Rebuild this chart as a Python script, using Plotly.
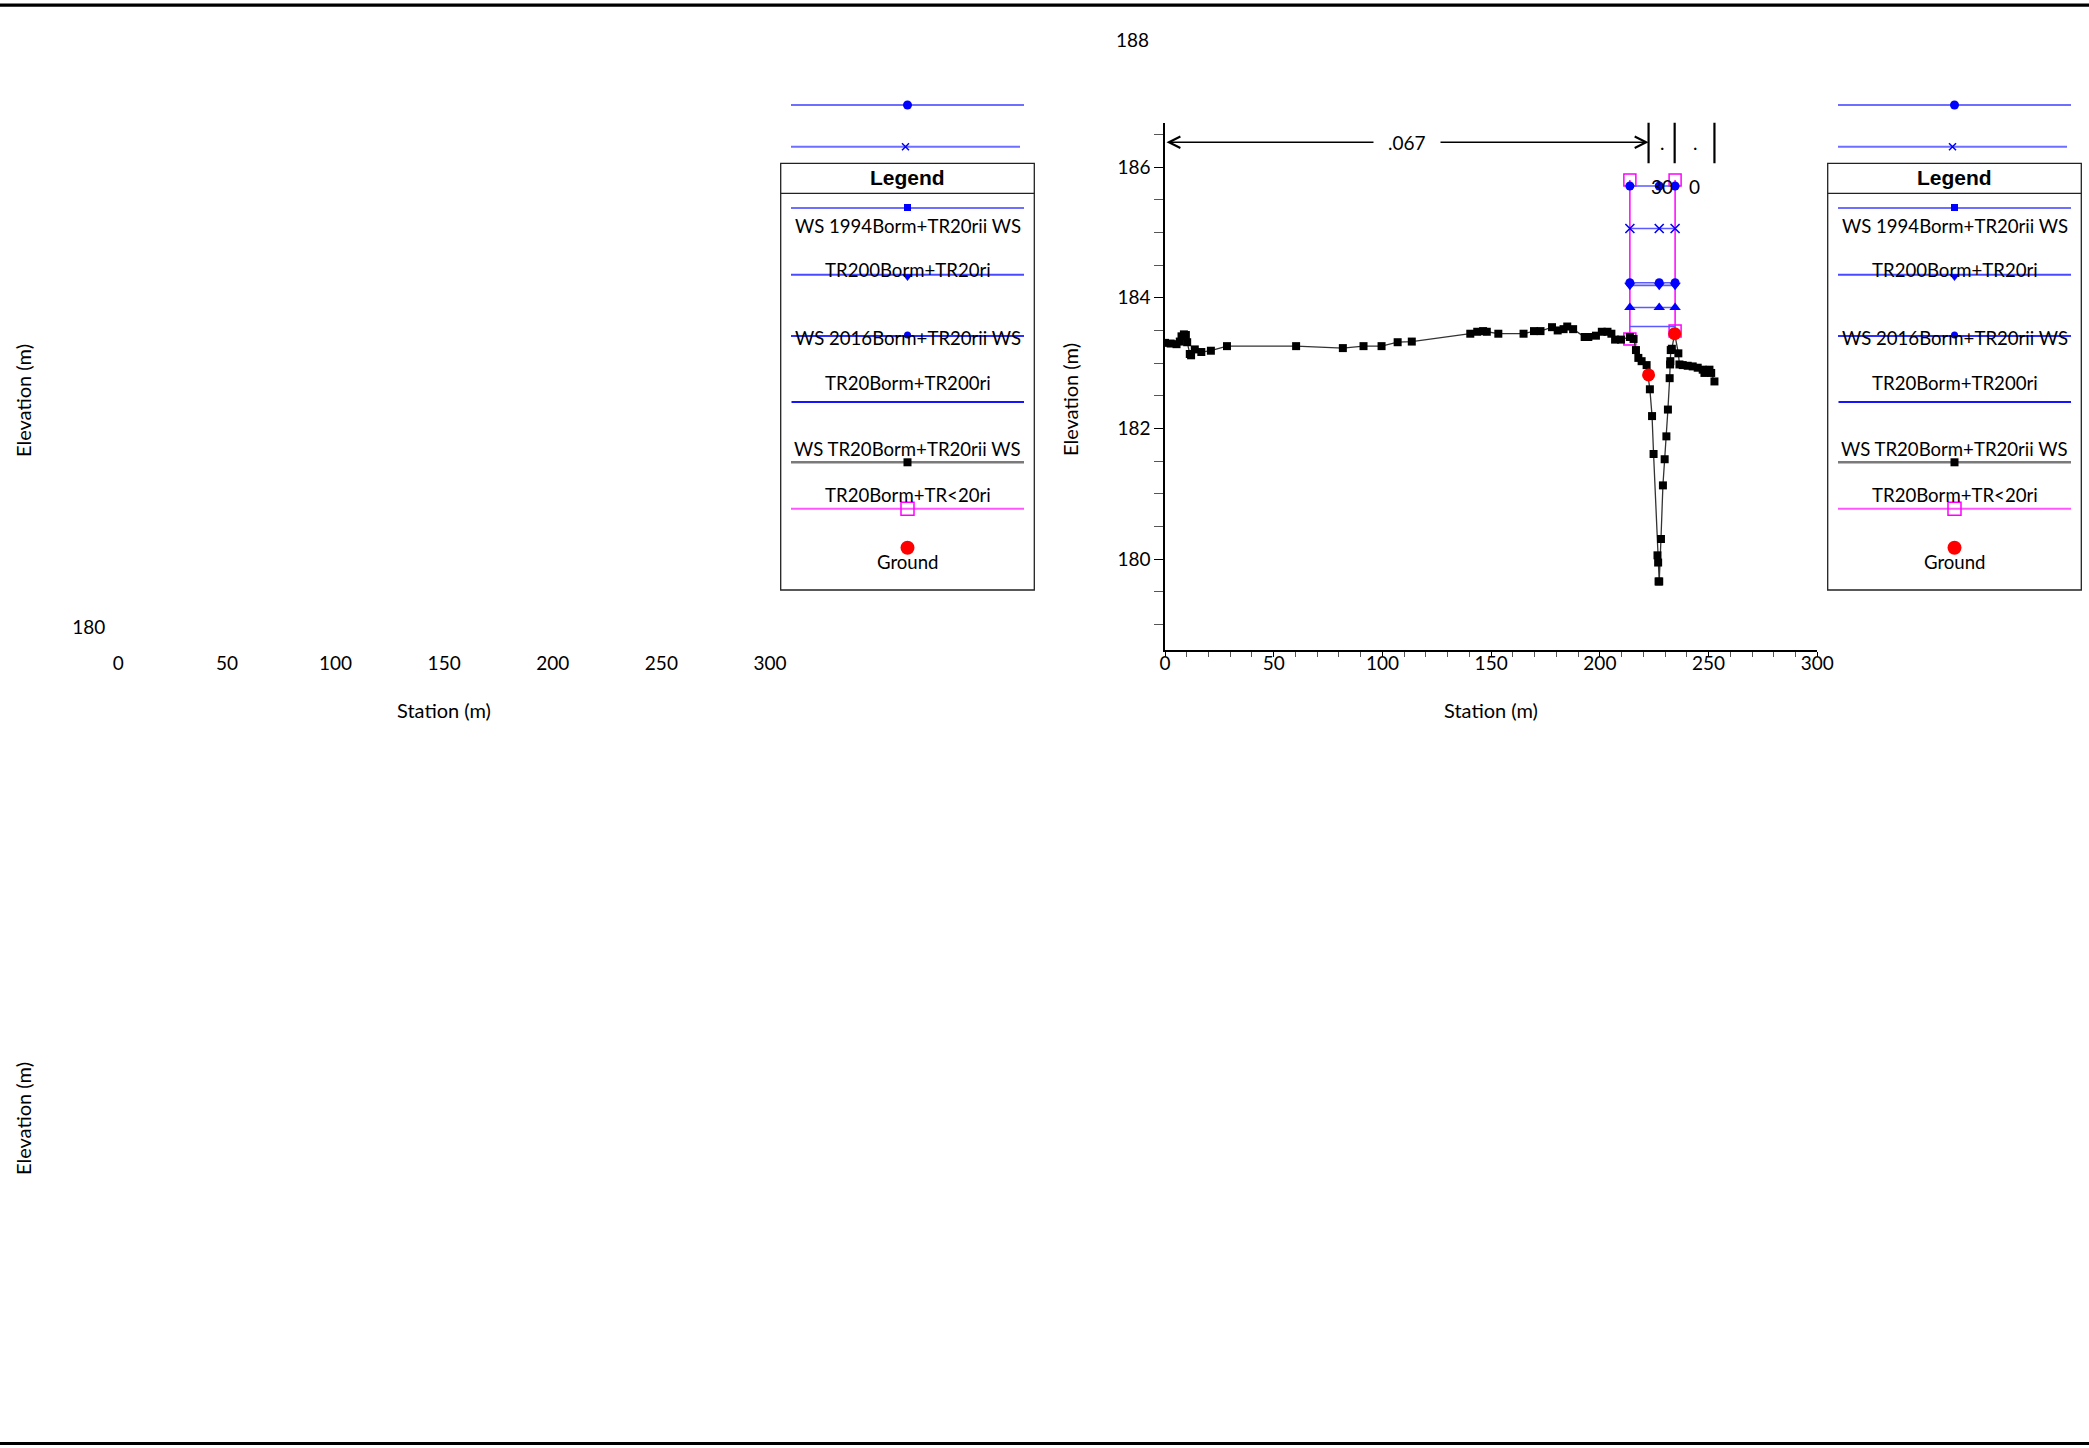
import plotly.graph_objects as go

W, H = 2089, 1448

# ------------------------------------------------------------------ data
GROUND_STATION = [0.0, 2.6, 5.3, 6.8, 7.6, 8.7, 9.6, 10.2, 11.4, 12.0, 13.7, 16.7, 21.1,
                  28.5, 60.3, 81.8, 91.3, 99.6, 107.0, 113.5, 140.4, 143.6, 146.3, 148.0,
                  153.3, 164.9, 169.7, 172.7, 178.0, 180.6, 183.3, 185.0, 187.7, 193.0,
                  194.7, 198.2, 200.9, 203.5, 205.3, 207.0, 209.7, 213.8, 215.5, 216.6,
                  217.7, 219.2, 221.5, 223.0, 224.0, 224.7, 226.5, 226.8, 227.0, 227.3,
                  228.1, 229.0, 229.8, 230.6, 231.3, 232.1, 232.3, 232.4, 232.6, 233.1,
                  234.4, 236.1, 236.6, 238.1, 240.4, 242.7, 245.0, 247.3, 248.1, 250.4,
                  251.2, 252.7]
GROUND_ELEV = [183.31, 183.30, 183.29, 183.33, 183.41, 183.44, 183.43, 183.32, 183.14, 183.12,
               183.21, 183.17, 183.19, 183.26, 183.26, 183.23, 183.26, 183.26, 183.32, 183.33,
               183.45, 183.48, 183.49, 183.48, 183.45, 183.45, 183.49, 183.49, 183.55, 183.50,
               183.52, 183.56, 183.52, 183.40, 183.40, 183.42, 183.48, 183.48, 183.45, 183.36,
               183.36, 183.40, 183.37, 183.20, 183.08, 183.03, 182.97, 182.60, 182.19, 181.61,
               180.06, 179.95, 179.66, 179.66, 180.31, 181.13, 181.53, 181.88, 182.29, 182.77,
               182.98, 183.03, 183.20, 183.22, 183.45, 183.15, 182.98, 182.97, 182.96, 182.95,
               182.93, 182.90, 182.85, 182.90, 182.85, 182.72]

BANK_STATION = [222.4, 234.4]
BANK_ELEV = [182.82, 183.45]

WS_STATION = [213.8, 227.3, 234.6]
WS_1 = [185.71, 185.71, 185.71]
WS_2 = [185.06, 185.06, 185.06]
WS_3 = [184.23, 184.23, 184.23]
WS_4 = [184.19, 184.19, 184.19]
WS_5 = [183.85, 183.85, 183.85]
WS_6 = [183.56, 183.56, 183.56]

LEVEE_STATION = [213.8, 213.8, None, 234.6, 234.6]
LEVEE_ELEV = [183.37, 185.80, None, 185.80, 183.49]

N_BREAK_STATION = [0.0, 222.4, 234.4, 252.7]
N_VALUE_LABELS = [".067", ".", "."]
N_SUB_LABELS = ["", "30", "0"]

X_TICKS = [0, 50, 100, 150, 200, 250, 300]
Y_TICKS = [178, 180, 182, 184, 186, 188]
LEFT_Y_TICKS = [180]

LEGEND_LABELS = ["WS 1994Borm+TR20rii WS", "TR200Borm+TR20ri", "WS 2016Borm+TR20rii WS",
                 "TR20Borm+TR200ri", "WS TR20Borm+TR20rii WS", "TR20Borm+TR&lt;20ri", "Ground"]

# ------------------------------------------------------------------ style / layout helpers
FONT = "Lato, 'Noto Sans', sans-serif"
FS = 19
BLUE = "#0000ff"
LBLUE = "#5a5aff"
MAGENTA = "#ff00ff"

Y_RANGE = [178.612, 186.681]      # right panel elevation axis
LEFT_Y_RANGE = [179.653, 187.72]
X_RANGE = [0, 300]
PLOT_TOP_PX, PLOT_BOTTOM_PX = 122.5, 650
RIGHT_LEFT_PX, RIGHT_RIGHT_PX = 1165, 1817.3
LEFT_LEFT_PX, LEFT_RIGHT_PX = 118.3, 770


def fx(px):
    return px / W


def fy(py):
    return 1 - py / H


def elev_to_px(v):
    return PLOT_BOTTOM_PX - (v - Y_RANGE[0]) * (PLOT_BOTTOM_PX - PLOT_TOP_PX) / (Y_RANGE[1] - Y_RANGE[0])


Y_DOMAIN = [fy(PLOT_BOTTOM_PX), fy(PLOT_TOP_PX)]

fig = go.Figure()

# --- right panel traces
fig.add_trace(go.Scatter(x=LEVEE_STATION, y=LEVEE_ELEV, mode="lines+markers",
                         line=dict(color=MAGENTA, width=1.5),
                         marker=dict(symbol="square-open", size=12, color=MAGENTA,
                                     line=dict(width=1.5, color=MAGENTA)),
                         xaxis="x", yaxis="y", hoverinfo="skip"))

ws_specs = [
    (WS_6, None, 0),
    (WS_5, "triangle-up", 10),
    (WS_4, "triangle-down", 10),
    (WS_3, "circle", 9),
    (WS_2, "x-thin", 9),
    (WS_1, "circle", 9),
]
for vals, sym, size in ws_specs:
    if sym is None:
        fig.add_trace(go.Scatter(x=WS_STATION, y=vals, mode="lines",
                                 line=dict(color=LBLUE, width=1.6),
                                 xaxis="x", yaxis="y", hoverinfo="skip"))
    else:
        fig.add_trace(go.Scatter(x=WS_STATION, y=vals, mode="lines+markers",
                                 line=dict(color=LBLUE, width=1.6),
                                 marker=dict(symbol=sym, size=size, color=BLUE,
                                             line=dict(width=1.6 if sym == "x-thin" else 0, color=BLUE)),
                                 xaxis="x", yaxis="y", hoverinfo="skip"))

fig.add_trace(go.Scatter(x=GROUND_STATION, y=GROUND_ELEV, mode="lines+markers",
                         line=dict(color="#333333", width=1.3),
                         marker=dict(symbol="square", size=8, color="black"),
                         xaxis="x", yaxis="y", hoverinfo="skip"))
fig.add_trace(go.Scatter(x=BANK_STATION, y=BANK_ELEV, mode="markers",
                         marker=dict(symbol="circle", size=13, color="#ff0000"),
                         xaxis="x", yaxis="y", hoverinfo="skip"))

shapes = []
annotations = []

# Manning's n bars / arrow / labels
ARROW_Y = 186.378
for st in N_BREAK_STATION[1:]:
    shapes.append(dict(type="line", xref="x", yref="y", x0=st, x1=st, y0=186.057, y1=Y_RANGE[1],
                       line=dict(color="black", width=2.2)))
annotations.append(dict(x=N_BREAK_STATION[1], y=ARROW_Y, ax=N_BREAK_STATION[0], ay=ARROW_Y,
                        xref="x", yref="y", axref="x", ayref="y", text="", showarrow=True,
                        arrowhead=5, startarrowhead=5, arrowside="end+start",
                        arrowsize=1.6, startarrowsize=1.6, arrowwidth=1.4, arrowcolor="black"))
for i, lab in enumerate(N_VALUE_LABELS):
    mid = (N_BREAK_STATION[i] + N_BREAK_STATION[i + 1]) / 2
    annotations.append(dict(x=mid, y=ARROW_Y, xref="x", yref="y", text=lab, showarrow=False,
                            bgcolor="white" if lab != "." else None,
                            borderpad=14 if lab != "." else 1,
                            font=dict(family=FONT, size=FS, color="black")))
    if N_SUB_LABELS[i]:
        annotations.append(dict(x=mid, y=185.70, xref="x", yref="y", text=N_SUB_LABELS[i],
                                showarrow=False, font=dict(family=FONT, size=FS, color="black")))


# --- pixel-overlay text helper
def ptext(txt, x, y, angle=0, size=FS, family=FONT, xanchor="center"):
    annotations.append(dict(x=x, y=y, xref="x3", yref="y3", text=txt, showarrow=False,
                            textangle=angle, xanchor=xanchor, yanchor="middle",
                            font=dict(family=family, size=size, color="black")))


# top tick label that sits above the end of the elevation axis
ptext(str(Y_TICKS[-1]), RIGHT_LEFT_PX - 14, elev_to_px(Y_TICKS[-1]) + 3, xanchor="right")

ptext("Station (m)", (LEFT_LEFT_PX + LEFT_RIGHT_PX) / 2, 710, size=20)
ptext("Station (m)", (RIGHT_LEFT_PX + RIGHT_RIGHT_PX) / 2, 710, size=20)
ptext("Elevation (m)", 23, 401, -90, size=20)
ptext("Elevation (m)", 1070, 400, -90, size=20)
ptext("Elevation (m)", 23, 1119, -90, size=20)

# --- outer borders
for yb in (5.2, 1443.5):
    shapes.append(dict(type="line", xref="x3", yref="y3", x0=0, x1=W, y0=yb, y1=yb,
                       line=dict(color="black", width=3.2)))

# --- legend boxes (drawn by hand, pixel overlay)
LEGEND_ROWS = [
    dict(ly=105, x0=-116.5, x1=116.5, lc="#6e6eff", lw=2, sym="circle", ms=9, my=105, mx=0),
    dict(ly=146.7, x0=-116.5, x1=112.5, lc="#6e6eff", lw=2, sym="x-thin", ms=7, my=146.7, mx=-2),
    dict(ly=208, x0=-116.5, x1=116.5, lc="#6e6eff", lw=2, sym="square", ms=7, my=207.5, mx=0,
         text=LEGEND_LABELS[0], ty=225.7),
    dict(ly=274.7, x0=-116.5, x1=116.5, lc="#4a4aff", lw=2, sym="triangle-down", ms=9, my=276.5, mx=0,
         text=LEGEND_LABELS[1], ty=270),
    dict(ly=336, x0=-116.5, x1=116.5, lc="#2e2eff", lw=2, sym="circle", ms=7, my=335, mx=0,
         text=LEGEND_LABELS[2], ty=338.3),
    dict(ly=402, x0=-116, x1=116.5, lc="#1414ff", lw=2, sym=None,
         text=LEGEND_LABELS[3], ty=382.7),
    dict(ly=462.3, x0=-116.5, x1=116.5, lc="#7a7a7a", lw=2.6, sym="square", ms=8, mc="black",
         my=462.3, mx=0, text=LEGEND_LABELS[4], ty=449.3),
    dict(ly=508.7, x0=-116.5, x1=116.5, lc="#ff55ff", lw=2, sym="square-open", ms=13, mc=MAGENTA,
         my=508.7, mx=0, text=LEGEND_LABELS[5], ty=495),
    dict(ly=None, sym="circle", ms=14, mc="#ff0000", my=547.7, mx=0,
         text=LEGEND_LABELS[6], ty=561.7),
]


def add_legend(cx):
    shapes.append(dict(type="rect", xref="x3", yref="y3", x0=cx - 126.8, x1=cx + 126.8,
                       y0=163.3, y1=590, line=dict(color="#222222", width=1.3)))
    shapes.append(dict(type="line", xref="x3", yref="y3", x0=cx - 126.8, x1=cx + 126.8,
                       y0=193.3, y1=193.3, line=dict(color="#222222", width=1.3)))
    ptext("<b>Legend</b>", cx, 177, size=21, family="'Liberation Sans', Arial, sans-serif")
    for r in LEGEND_ROWS:
        if r.get("ly") is not None:
            fig.add_trace(go.Scatter(x=[cx + r["x0"], cx + r["x1"]], y=[r["ly"], r["ly"]],
                                     mode="lines", line=dict(color=r["lc"], width=r["lw"]),
                                     xaxis="x3", yaxis="y3", hoverinfo="skip"))
        if r.get("sym"):
            mc = r.get("mc", BLUE)
            lw = 1.5 if r["sym"] in ("x-thin", "square-open") else 0
            fig.add_trace(go.Scatter(x=[cx + r["mx"]], y=[r["my"]], mode="markers",
                                     marker=dict(symbol=r["sym"], size=r["ms"], color=mc,
                                                 line=dict(width=lw, color=mc)),
                                     xaxis="x3", yaxis="y3", hoverinfo="skip"))
        if r.get("text"):
            ptext(r["text"], cx, r["ty"], size=18.6)


add_legend(907.5)
add_legend(1954.5)

# invisible traces so the left panel axes and the right tick-label axis exist
fig.add_trace(go.Scatter(x=[None], y=[None], xaxis="x2", yaxis="y2", mode="markers",
                         hoverinfo="skip"))
fig.add_trace(go.Scatter(x=[None], y=[None], xaxis="x4", yaxis="y", mode="markers",
                         hoverinfo="skip"))

tickfont = dict(family=FONT, size=FS, color="black")

fig.update_layout(
    width=W, height=H, autosize=False,
    margin=dict(l=0, r=0, t=0, b=0, pad=0),
    paper_bgcolor="white",
    plot_bgcolor="rgba(0,0,0,0)",
    showlegend=False,
    font=dict(family=FONT, size=FS, color="black"),
    # right panel: axis line + tick marks (labels drawn by xaxis4)
    xaxis=dict(domain=[fx(RIGHT_LEFT_PX), fx(RIGHT_RIGHT_PX)], range=X_RANGE, anchor="y",
               tickvals=X_TICKS, ticks="outside", ticklen=5, tickwidth=1.2, tickcolor="black",
               showticklabels=False, automargin=False,
               showline=True, linecolor="black", linewidth=1.5, showgrid=False, zeroline=False,
               minor=dict(dtick=10, tick0=0, ticks="outside", ticklen=5, tickwidth=1.2,
                          tickcolor="#555555", showgrid=False)),
    xaxis4=dict(overlaying="x", anchor="y", side="bottom", range=X_RANGE, automargin=False,
                tickvals=X_TICKS, ticks="", showline=False, showgrid=False, zeroline=False,
                tickfont=tickfont),
    yaxis=dict(domain=Y_DOMAIN, range=Y_RANGE, anchor="x", automargin=False,
               tickvals=Y_TICKS, ticks="outside", ticklen=9, tickwidth=1.2, tickcolor="black",
               showline=True, linecolor="black", linewidth=1.5, showgrid=False, zeroline=False,
               tickfont=tickfont,
               minor=dict(dtick=0.5, tick0=178, ticks="outside", ticklen=9, tickwidth=1.2,
                          tickcolor="#555555", showgrid=False)),
    # left (empty) panel
    xaxis2=dict(domain=[fx(LEFT_LEFT_PX), fx(LEFT_RIGHT_PX)], range=X_RANGE, anchor="y2",
                automargin=False,
                tickvals=X_TICKS, ticks="", showline=False, showgrid=False, zeroline=False,
                tickfont=tickfont),
    yaxis2=dict(domain=Y_DOMAIN, range=LEFT_Y_RANGE, anchor="x2", automargin=False,
                tickvals=LEFT_Y_TICKS, ticks="", showline=False, showgrid=False, zeroline=False,
                tickfont=tickfont, ticklabelstandoff=12),
    # pixel overlay for legend boxes and free text
    xaxis3=dict(domain=[0, 1], range=[0, W], anchor="y3", visible=False, fixedrange=True,
                automargin=False, showticklabels=False),
    yaxis3=dict(domain=[0, 1], range=[H, 0], anchor="x3", visible=False, fixedrange=True,
                automargin=False, showticklabels=False),
    shapes=shapes,
    annotations=annotations,
)

fig.write_html("out.html",
               config={"displayModeBar": False, "responsive": False},
               post_script="document.body.style.margin='0';document.body.style.overflow='hidden';")
